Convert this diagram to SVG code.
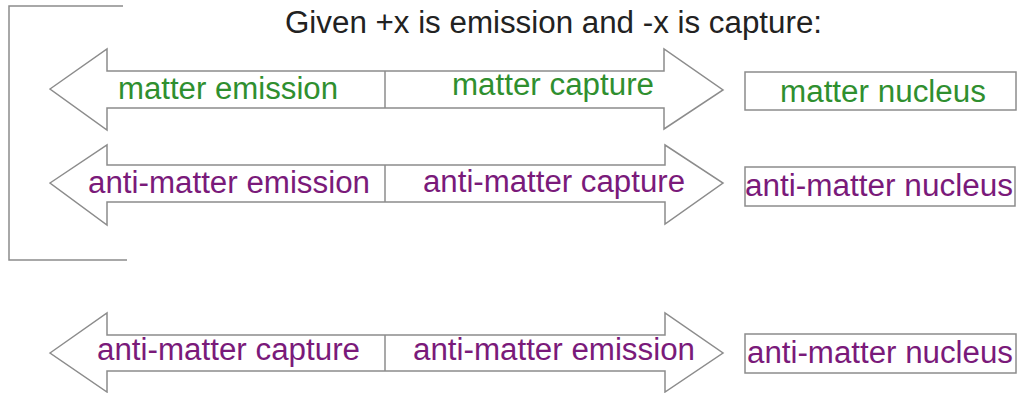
<svg xmlns="http://www.w3.org/2000/svg" width="1021" height="393" viewBox="0 0 1021 393">
<style>
.ln{fill:none;stroke:#8c8c8c;stroke-width:1.5}
.ar{fill:#fff;stroke:#8c8c8c;stroke-width:1.5;stroke-linejoin:miter}
.bx{fill:#fff;stroke:#8c8c8c;stroke-width:1.5}
text{font-family:"Liberation Sans",Arial,sans-serif;font-size:31px}
.t{fill:#222}
.g{fill:#2f8f2f}
.p{fill:#7a1a7a}
</style>
<rect width="1021" height="393" fill="#fff"/>
<g id="bracket">
<polyline class="ln" points="123,6 9,6 9,260 127,260"/>
</g>
<g id="title">
<text class="t" x="285" y="33" textLength="537" lengthAdjust="spacingAndGlyphs">Given +x is emission and -x is capture:</text>
</g>
<g id="arrow1">
<polygon class="ar" points="50,89 107,49 107,71 664,71 664,49 723,90 664,129 664,108 107,108 107,130"/>
<line class="ln" x1="385" y1="71" x2="385" y2="108"/>
<text class="g" x="118" y="99" textLength="220" lengthAdjust="spacingAndGlyphs">matter emission</text>
<text class="g" x="452" y="95" textLength="202" lengthAdjust="spacingAndGlyphs">matter capture</text>
</g>
<g id="box1">
<rect class="bx" x="745" y="72" width="271" height="38"/>
<text class="g" x="780" y="102" textLength="206" lengthAdjust="spacingAndGlyphs">matter nucleus</text>
</g>
<g id="arrow2">
<polygon class="ar" points="50,183 107,145 107,165 665,165 665,145 723,183 665,224 665,202 107,202 107,225"/>
<line class="ln" x1="385" y1="165" x2="385" y2="202"/>
<text class="p" x="88" y="193" textLength="282" lengthAdjust="spacingAndGlyphs">anti-matter emission</text>
<text class="p" x="423" y="192" textLength="262" lengthAdjust="spacingAndGlyphs">anti-matter capture</text>
</g>
<g id="box2">
<rect class="bx" x="745" y="167" width="270" height="39"/>
<text class="p" x="745" y="196" textLength="268" lengthAdjust="spacingAndGlyphs">anti-matter nucleus</text>
</g>
<g id="arrow3">
<polygon class="ar" points="50,353 107,313 107,335 665,335 665,313 723,353 665,392 665,371 107,371 107,392"/>
<line class="ln" x1="385" y1="335" x2="385" y2="371"/>
<text class="p" x="97" y="360" textLength="263" lengthAdjust="spacingAndGlyphs">anti-matter capture</text>
<text class="p" x="413" y="360" textLength="282" lengthAdjust="spacingAndGlyphs">anti-matter emission</text>
</g>
<g id="box3">
<rect class="bx" x="745" y="334" width="271" height="39"/>
<text class="p" x="747" y="363" textLength="266" lengthAdjust="spacingAndGlyphs">anti-matter nucleus</text>
</g>
</svg>
